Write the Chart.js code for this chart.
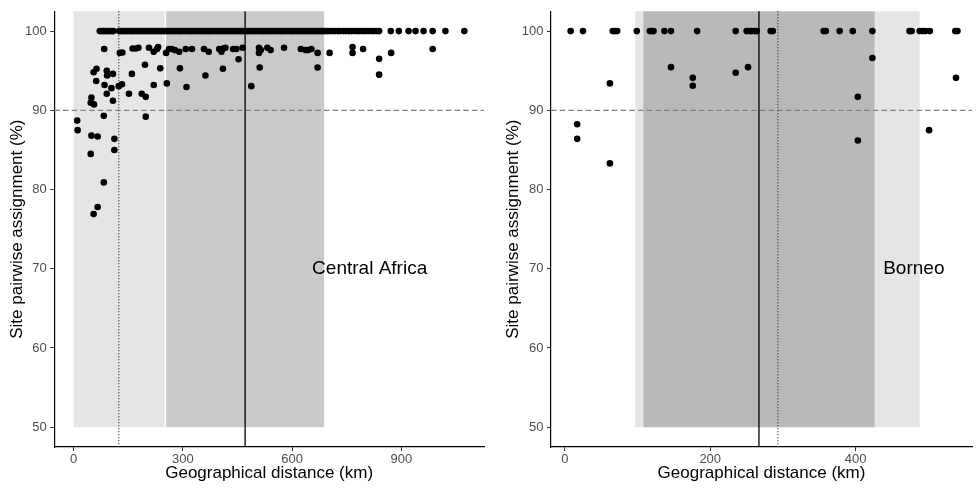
<!DOCTYPE html>
<html>
<head>
<meta charset="utf-8">
<title>Site pairwise assignment vs distance</title>
<script src="https://cdn.jsdelivr.net/npm/chart.js@4.4.1/dist/chart.umd.min.js"></script>
<style>
  body { margin: 0; background: #fff; }
  #wrap { position: relative; width: 976px; height: 489px; }
  .panel { position: absolute; top: 0; }
</style>
</head>
<body>
<div id="wrap">
  <div class="panel" style="left:0"><canvas id="africaChart" width="488" height="489"></canvas></div>
  <div class="panel" style="left:488px"><canvas id="borneoChart" width="488" height="489"></canvas></div>
</div>
<script>
// Central Africa: site pairs assigned at 100 %
const africaTopDist = [72, 78, 83, 89, 94, 100, 105, 109,
  125, 130, 136, 141, 146, 152, 158, 163, 168, 175, 180, 186, 191, 196, 203, 208, 213, 219, 225, 231,
  236, 241, 247, 253, 259, 264, 269, 275, 281, 287, 292, 297, 303, 309, 315, 320, 325, 331, 337, 343,
  348, 353, 359, 365, 371, 376, 381, 387, 393, 399, 404, 409, 415, 421, 427, 432, 437, 443, 449, 455,
  460, 465, 471, 477, 483, 488, 493, 499, 505, 511, 516, 521, 527, 533, 539, 544, 549, 555, 561, 567,
  572, 577, 583, 589, 595, 600, 605, 611, 617, 623, 628, 633, 639, 645, 651, 656, 661, 667, 673, 679,
  684, 690, 697, 703, 711, 718, 726, 733, 741, 748, 756, 763, 771, 779, 786, 794, 801, 809, 817, 824,
  832, 839,
  871, 893, 920, 939, 961, 986, 1021, 1073];

// Central Africa: remaining site pairs
const africaDist = [84, 127, 134, 162, 171, 178, 207, 220, 229, 232, 254, 262, 269, 278, 290, 308, 325,
  358, 371, 400, 406, 411, 417, 438, 447, 464, 453, 509, 509, 514, 532, 541, 578, 624, 637, 644, 653,
  670, 670, 703, 766, 766, 795, 839, 839, 872, 986, 511, 488, 292, 362, 410, 256, 310, 196, 238,
  63, 55, 91, 92, 108, 62, 85, 104, 124, 133, 160, 91, 108, 49, 47, 56, 152, 187, 198, 220,
  10, 83, 198, 11, 49, 66, 112, 112, 47, 83, 66, 55];
const africaAssign = [97.75, 97.25, 97.3, 97.8, 97.8, 97.9, 97.9, 97.4, 97.75, 98.0, 97.25, 97.75, 97.75, 97.6, 97.4, 97.75, 97.75,
  97.75, 97.4, 97.75, 97.4, 97.8, 97.9, 97.75, 97.75, 97.9, 96.45, 97.9, 97.25, 97.6, 97.9, 97.6, 97.9, 97.75, 97.6, 97.6, 97.75,
  97.25, 95.4, 97.25, 98.0, 97.25, 97.75, 96.5, 94.5, 97.25, 97.75, 95.4, 93.05, 95.3, 94.4, 95.25, 93.4, 92.95, 95.75, 95.3,
  95.25, 94.8, 95.0, 94.4, 94.6, 93.7, 93.2, 92.8, 93.05, 93.3, 94.6, 92.1, 91.2, 91.6, 90.95, 90.75, 92.1, 92.1, 91.7, 93.2,
  88.7, 89.3, 89.2, 87.5, 86.8, 86.7, 86.4, 85.0, 84.5, 80.9, 77.8, 76.9];

// Borneo: site pairs assigned at 100 %
const borneoTopDist = [8, 25, 66, 69, 72, 99, 117, 120, 122, 137, 146, 182, 235, 250, 254, 257, 261, 264,
  283, 286, 356, 359, 378, 396, 423, 474, 477, 488, 492, 496, 502, 537, 540];

// Borneo: remaining site pairs
const borneoDist = [146, 62, 176, 176, 235, 252, 17, 17, 62, 423, 538, 403, 403, 501];
const borneoAssign = [95.45, 93.4, 94.1, 93.1, 94.75, 95.45, 88.25, 86.4, 83.3, 96.6, 94.1, 91.7, 86.2, 87.5];

const yTicks = [50, 60, 70, 80, 90, 100];
const africaXTicks = [0, 300, 600, 900];
const borneoXTicks = [0, 200, 400];

const threshold = 90;

// shaded distance bands and reference distances
const africaBands = [{ from: 0, to: 250, color: '#E5E5E5' }, { from: 254, to: 688, color: '#C9C9C9' }];
const borneoBands = [{ from: 97, to: 488, color: '#E5E5E5' }, { from: 108, to: 426, color: '#B9B9B9' }];
const africaSolid = 471, africaDotted = 124;
const borneoSolid = 267, borneoDotted = 293;

const tickFont = { family: '"Liberation Sans", Arial, sans-serif', size: 13 };
const titleFont = { family: '"Liberation Sans", Arial, sans-serif', size: 17 };

// background bands, vertical/horizontal reference lines and region label
const panelMarks = {
  id: 'panelMarks',
  beforeDatasetsDraw(chart, args, opts) {
    const { ctx, chartArea, scales: { x, y } } = chart;
    ctx.save();
    const bottom = y.getPixelForValue(50);
    opts.bands.forEach(b => {
      const l = x.getPixelForValue(b.from), r = x.getPixelForValue(b.to);
      ctx.fillStyle = b.color;
      ctx.fillRect(l, chartArea.top, r - l, bottom - chartArea.top);
    });

    // 90 % threshold
    const ty = y.getPixelForValue(threshold);
    ctx.strokeStyle = '#7F7F7F';
    ctx.lineWidth = 1.2;
    ctx.setLineDash([5.5, 3.2]);
    ctx.beginPath();
    ctx.moveTo(chartArea.left, ty);
    ctx.lineTo(chartArea.right, ty);
    ctx.stroke();

    // dotted reference distance
    const dx = x.getPixelForValue(opts.dotted);
    ctx.strokeStyle = '#333';
    ctx.lineWidth = 1.3;
    ctx.setLineDash([1, 2]);
    ctx.beginPath();
    ctx.moveTo(dx, chartArea.top);
    ctx.lineTo(dx, chartArea.bottom);
    ctx.stroke();

    // solid reference distance
    const sx = x.getPixelForValue(opts.solid);
    ctx.strokeStyle = '#000';
    ctx.lineWidth = 1.3;
    ctx.setLineDash([]);
    ctx.beginPath();
    ctx.moveTo(sx, chartArea.top);
    ctx.lineTo(sx, chartArea.bottom);
    ctx.stroke();
    ctx.restore();
  },
  afterDatasetsDraw(chart, args, opts) {
    const { ctx, scales: { x, y } } = chart;
    ctx.save();
    ctx.fillStyle = '#000';
    ctx.font = '19px "Liberation Sans", Arial, sans-serif';
    ctx.textAlign = 'center';
    ctx.textBaseline = 'middle';
    ctx.fillText(opts.label, x.getPixelForValue(opts.labelAt[0]), y.getPixelForValue(opts.labelAt[1]));
    ctx.restore();
  }
};

function makePanel(id, p) {
  const ctx = document.getElementById(id).getContext('2d');
  return new Chart(ctx, {
    type: 'scatter',
    data: {
      datasets: [{
        data: p.topDist.map(d => ({ x: d, y: 100 })),
        backgroundColor: '#000', borderWidth: 0, pointRadius: 3.3
      }, {
        data: p.dist.map((d, i) => ({ x: d, y: p.assign[i] })),
        backgroundColor: '#000', borderWidth: 0, pointRadius: 3.3
      }]
    },
    options: {
      responsive: false,
      animation: false,
      layout: { padding: { top: 7, right: p.padRight, left: 0, bottom: 0 } },
      plugins: {
        legend: { display: false },
        tooltip: { enabled: false },
        panelMarks: p.marks
      },
      scales: {
        x: {
          type: 'linear',
          min: p.xMin, max: p.xMax,
          afterBuildTicks: s => { s.ticks = p.xTicks.map(v => ({ value: v })); },
          afterFit: s => { s.height = 42; },
          ticks: { color: '#4D4D4D', font: tickFont, padding: 1 },
          grid: { drawOnChartArea: false, drawTicks: true, tickLength: 4, tickColor: '#333' },
          border: { display: true, color: '#000', width: 1.2 },
          title: { display: true, text: 'Geographical distance (km)', color: '#000', font: titleFont, padding: { top: 0, bottom: 5 } }
        },
        y: {
          type: 'linear',
          min: 47.5, max: 102.5,
          afterBuildTicks: s => { s.ticks = yTicks.map(v => ({ value: v })); },
          afterFit: s => { s.width = p.yWidth; },
          ticks: { color: '#4D4D4D', font: tickFont, padding: 3.5 },
          grid: { drawOnChartArea: false, drawTicks: true, tickLength: 4, tickColor: '#333' },
          border: { display: true, color: '#000', width: 1.2 },
          title: { display: true, text: 'Site pairwise assignment (%)', color: '#000', font: titleFont, padding: { top: p.yTitlePad, bottom: 0 } }
        }
      }
    },
    plugins: [panelMarks]
  });
}

makePanel('africaChart', {
  topDist: africaTopDist, dist: africaDist, assign: africaAssign,
  xMin: -53, xMax: 1127, xTicks: africaXTicks,
  yWidth: 54.3, yTitlePad: 7, padRight: 4,
  marks: { bands: africaBands, solid: africaSolid, dotted: africaDotted, label: 'Central Africa', labelAt: [813, 70] }
});

makePanel('borneoChart', {
  topDist: borneoTopDist, dist: borneoDist, assign: borneoAssign,
  xMin: -19, xMax: 560, xTicks: borneoXTicks,
  yWidth: 63, yTitlePad: 15, padRight: 0,
  marks: { bands: borneoBands, solid: borneoSolid, dotted: borneoDotted, label: 'Borneo', labelAt: [480, 70] }
});
</script>
</body>
</html>
